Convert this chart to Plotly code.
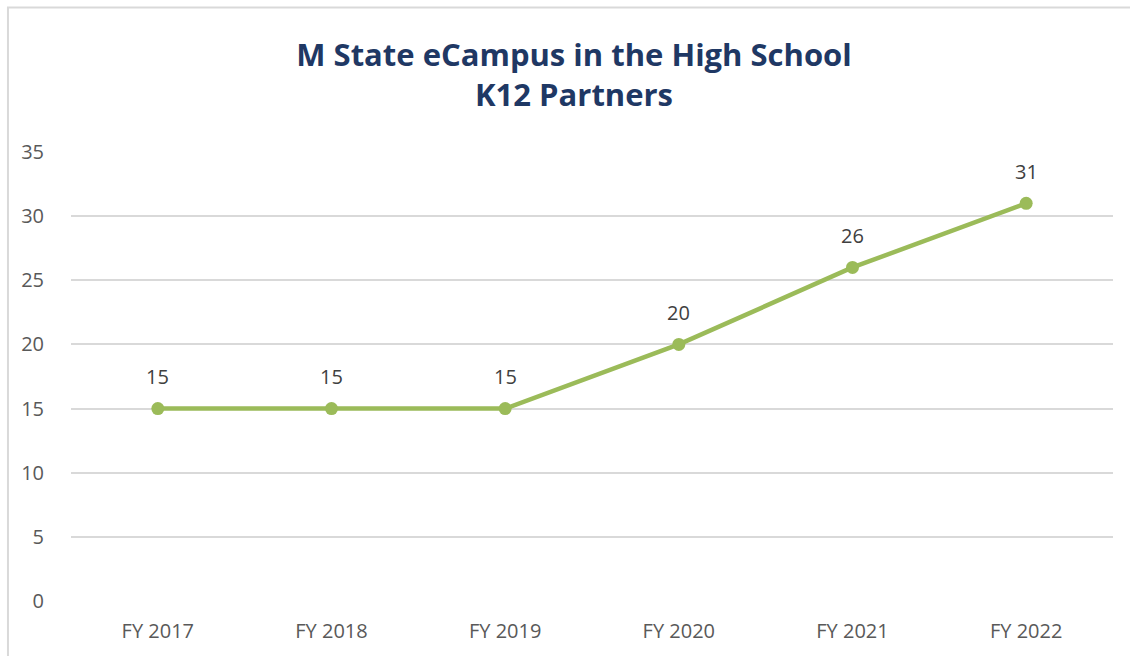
import plotly.graph_objects as go

categories = ["FY 2017", "FY 2018", "FY 2019", "FY 2020", "FY 2021", "FY 2022"]
values = [15, 15, 15, 20, 26, 31]
y_ticks = [0, 5, 10, 15, 20, 25, 30, 35]

FONT = "Open Sans"
fig = go.Figure()
fig.add_trace(go.Scatter(
    x=categories, y=values, mode="lines+markers",
    line=dict(color="#9BBB59", width=4.5),
    marker=dict(color="#9BBB59", size=13),
    hoverinfo="skip", showlegend=False, cliponaxis=False,
))
for c, v in zip(categories, values):
    fig.add_annotation(x=c, y=v, text=str(v), showarrow=False, yshift=32,
                       font=dict(family=FONT, size=20, color="#404040"))

fig.add_shape(type="rect", xref="paper", yref="paper",
              x0=-0.0605, x1=1.2, y0=-0.3, y1=1.322,
              line=dict(color="#D9D9D9", width=2), fillcolor="rgba(0,0,0,0)", layer="below")

fig.update_layout(
    width=1130, height=656,
    margin=dict(l=71, r=17, t=152, b=55),
    paper_bgcolor="white", plot_bgcolor="white",
    title=dict(text="<b>M State eCampus in the High School<br>K12 Partners</b>",
               x=0.508, xanchor="center", y=0.9, yanchor="middle",
               font=dict(family=FONT, size=31, color="#1F3864")),
    xaxis=dict(range=[-0.5, 5.5], showgrid=False, showline=False, zeroline=False,
               ticks="outside", ticklen=12, tickcolor="rgba(0,0,0,0)",
               tickfont=dict(family=FONT, size=20, color="#595959")),
    yaxis=dict(range=[0, 35], tickvals=y_ticks, showgrid=True, gridcolor="#D9D9D9",
               gridwidth=1.5, zeroline=False, showline=False,
               ticks="outside", ticklen=22, tickcolor="rgba(0,0,0,0)",
               tickfont=dict(family=FONT, size=20, color="#595959")),
)
fig.write_html("out.html")
